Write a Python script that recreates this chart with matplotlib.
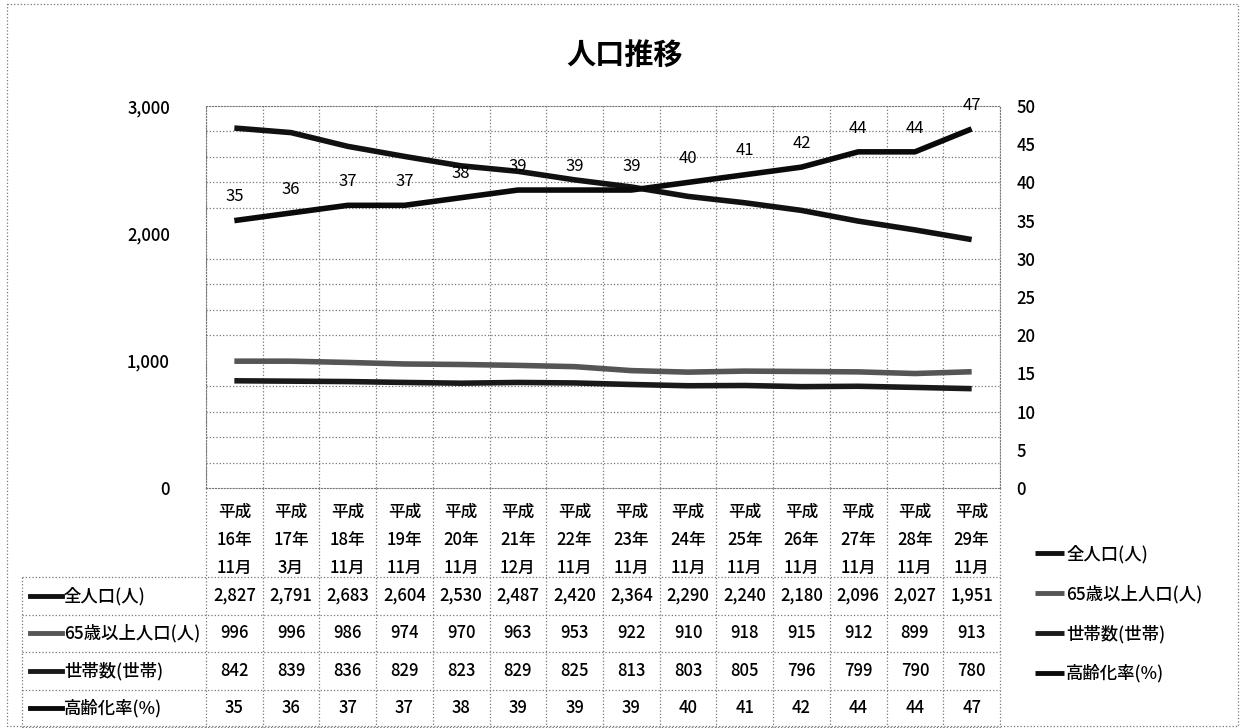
import matplotlib.pyplot as plt
import matplotlib.transforms as mtransforms
from matplotlib.patches import Rectangle

plt.rcParams['font.family'] = ['Noto Sans CJK JP', 'DejaVu Sans']

# === Data ===
years = ["平成\n16年\n11月", "平成\n17年\n3月", "平成\n18年\n11月", "平成\n19年\n11月",
         "平成\n20年\n11月", "平成\n21年\n12月", "平成\n22年\n11月", "平成\n23年\n11月",
         "平成\n24年\n11月", "平成\n25年\n11月", "平成\n26年\n11月", "平成\n27年\n11月",
         "平成\n28年\n11月", "平成\n29年\n11月"]
total_pop = [2827, 2791, 2683, 2604, 2530, 2487, 2420, 2364, 2290, 2240, 2180, 2096, 2027, 1951]
pop_65 = [996, 996, 986, 974, 970, 963, 953, 922, 910, 918, 915, 912, 899, 913]
households = [842, 839, 836, 829, 823, 829, 825, 813, 803, 805, 796, 799, 790, 780]
aging_rate = [35, 36, 37, 37, 38, 39, 39, 39, 40, 41, 42, 44, 44, 47]

series_names = ["全人口(人)", "65歳以上人口(人)", "世帯数(世帯)", "高齢化率(%)"]
series_colors = ["#111111", "#555555", "#1a1a1a", "#0a0a0a"]

W, H = 1245, 728
fig = plt.figure(figsize=(W / 100, H / 100), dpi=100)

# background axes in pixel coords (y from top)
bg = fig.add_axes([0, 0, 1, 1])
bg.set_xlim(0, W)
bg.set_ylim(H, 0)
bg.axis("off")

# plot area
px_l, px_r, px_t, px_b = 206, 1000, 106, 488
ax = fig.add_axes([px_l / W, 1 - px_b / H, (px_r - px_l) / W, (px_b - px_t) / H])
n = len(years)
x = list(range(n))
ax.set_xlim(-0.5, n - 0.5)
ax.set_ylim(0, 3000)
ax.set_yticks([0, 1000, 2000, 3000])
ax.set_yticklabels(["0", "1,000", "2,000", "3,000"], fontsize=12, fontweight="medium")
ax.set_yticks(range(0, 3001, 200), minor=True)
ax.tick_params(axis="y", which="both", length=0, pad=26)
ax.set_xticks([])
ax.set_xticks([i - 0.5 for i in range(n + 1)], minor=True)
ax.tick_params(axis="x", which="both", length=0)
ax.grid(True, which="minor", linestyle=":", color="#777777", linewidth=0.9)
for s in ax.spines.values():
    s.set_linestyle(":")
    s.set_color("#777777")

l1, = ax.plot(x, total_pop, color=series_colors[0], lw=4, solid_capstyle="butt", zorder=3)
l2, = ax.plot(x, pop_65, color=series_colors[1], lw=4, solid_capstyle="butt", zorder=3)
l3, = ax.plot(x, households, color=series_colors[2], lw=4, solid_capstyle="butt", zorder=3)

ax2 = ax.twinx()
ax2.set_ylim(0, 50)
ax2.set_yticks(range(0, 51, 5))
ax2.tick_params(axis="y", length=0, pad=12, labelsize=12)
for lab in ax2.get_yticklabels():
    lab.set_fontweight("medium")
for s in ax2.spines.values():
    s.set_visible(False)
l4, = ax2.plot(x, aging_rate, color=series_colors[3], lw=4, solid_capstyle="butt", zorder=3)
for xi, v in zip(x, aging_rate):
    ax2.annotate(str(v), (xi, v), xytext=(0, 11), textcoords="offset points",
                 ha="center", va="bottom", fontsize=12)

fig.text(0.502, 0.925, "人口推移", ha="center", va="center", fontsize=21, fontweight="bold")

# === Data table below the plot ===
tr = mtransforms.blended_transform_factory(ax.transData, bg.transData)
hdr_top, hdr_bot = px_b, 577
row_h = 37.5
table_bot = hdr_bot + row_h * 4
tbl_left = 22
grid_kw = dict(color="#777777", lw=0.9, ls=":")

for i in range(n + 1):
    bg.plot([i - 0.5, i - 0.5], [hdr_top, table_bot], transform=tr, **grid_kw)
for r in range(5):
    yy = hdr_bot + r * row_h
    bg.plot([tbl_left, px_r], [yy, yy], **grid_kw)
bg.plot([tbl_left, tbl_left], [hdr_bot, table_bot], **grid_kw)

for i, lab in enumerate(years):
    for k, part in enumerate(lab.split("\n")):
        bg.text(i, 512 + k * 28, part, transform=tr, ha="center", va="center",
                fontsize=12, fontweight="medium")

rows = [total_pop, pop_65, households, aging_rate]
for r, vals in enumerate(rows):
    yc = hdr_bot + (r + 0.5) * row_h
    bg.plot([30, 62], [yc, yc], color=series_colors[r], lw=3.5)
    bg.text(64, yc, series_names[r], ha="left", va="center", fontsize=12.5, fontweight="medium")
    for i, v in enumerate(vals):
        bg.text(i, yc, f"{v:,}", transform=tr, ha="center", va="center",
                fontsize=12, fontweight="medium")

# legend on the right
leg = fig.legend([l1, l2, l3, l4], series_names, loc="upper left",
                 bbox_to_anchor=(1028 / W, 1 - 538 / H), frameon=False, fontsize=12.5,
                 handlelength=1.7, handletextpad=0.1, labelspacing=1.22, borderaxespad=0)
for t in leg.get_texts():
    t.set_fontweight("medium")
for h in leg.get_lines():
    h.set_linewidth(3.5)

# outer dotted frame
bg.add_patch(Rectangle((7, 4), W - 14, H - 6, fill=False, ls=":", ec="#777777", lw=0.9))

fig.savefig("out.png", dpi=100)
